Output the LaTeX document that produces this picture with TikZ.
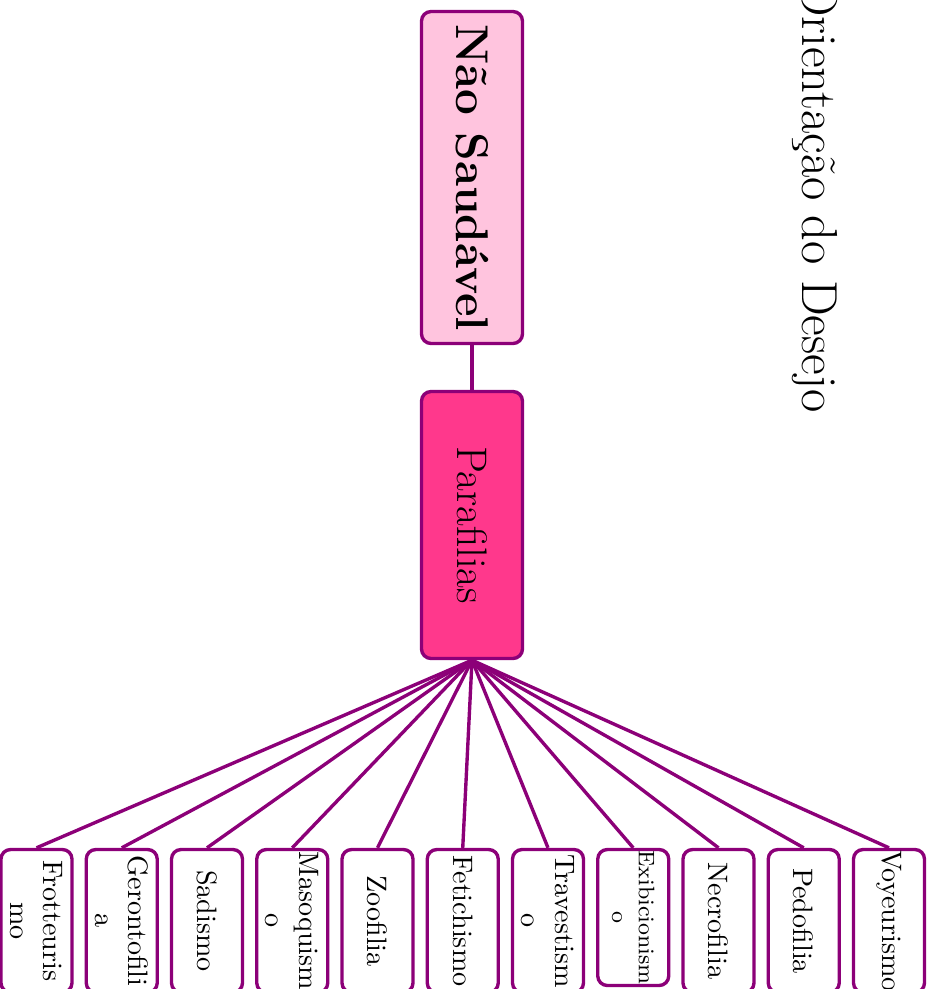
\documentclass[tikz,border=0pt]{standalone}
\usepackage{tikz}
\definecolor{mapline}{RGB}{140,0,120}
\definecolor{rootpink}{RGB}{255,196,222}
\definecolor{parapink}{RGB}{255,56,140}

\begin{document}
\begin{tikzpicture}[x=0.125mm,y=-0.125mm,
    every node/.style={rotate=-90},
    box/.style={draw=mapline,line width=1.2pt,rounded corners=1.2mm,inner sep=0pt,align=center},
    leaf/.style={box,fill=white,minimum width=17.875mm,minimum height=8.875mm},
    link/.style={mapline,line width=1.2pt}]
  \useasboundingbox (0,0) rectangle (939,989);
  \clip (0,0) rectangle (939,989);

  % title and the two upper boxes
  \node[anchor=base east,inner sep=0pt,font=\fontsize{18}{22}\selectfont] (title) at (802,413) {Orientação do Desejo};
  \node[box,fill=rootpink,minimum width=41.5mm,minimum height=12.625mm,font=\fontsize{16.3}{20}\selectfont\bfseries] (ns) at (472,177.5) {Não Saudável};
  \node[box,fill=parapink,minimum width=33.375mm,minimum height=12.625mm,font=\fontsize{15.2}{18}\selectfont] (par) at (472,525) {Parafilias};

  % the leaves
  \node[leaf] (frot) at (36.5,921) {Frotteuris\\mo};
  \node[leaf] (geron) at (121.75,921) {Gerontofili\\a};
  \node[leaf] (sad) at (207,921) {Sadismo};
  \node[leaf] (masoq) at (292.25,921) {Masoquism\\o};
  \node[leaf] (zoo) at (377.5,921) {Zoofilia};
  \node[leaf] (fet) at (462.75,921) {Fetichismo};
  \node[leaf] (trav) at (548,921) {Travestism\\o};
  \node[leaf,minimum width=17mm,font=\footnotesize] (exib) at (633.25,917.5) {Exibicionism\\o};
  \node[leaf] (necro) at (718.5,921) {Necrofilia};
  \node[leaf] (pedo) at (803.75,921) {Pedofilia};
  \node[leaf] (voy) at (889,921) {Voyeurismo};

  % connectors
  \draw[link] (ns.east) -- (par.west);
  \draw[link] (par.east) -- (frot.west);
  \draw[link] (par.east) -- (geron.west);
  \draw[link] (par.east) -- (sad.west);
  \draw[link] (par.east) -- (masoq.west);
  \draw[link] (par.east) -- (zoo.west);
  \draw[link] (par.east) -- (fet.west);
  \draw[link] (par.east) -- (trav.west);
  \draw[link] (par.east) -- (exib.west);
  \draw[link] (par.east) -- (necro.west);
  \draw[link] (par.east) -- (pedo.west);
  \draw[link] (par.east) -- (voy.west);
\end{tikzpicture}
\end{document}
